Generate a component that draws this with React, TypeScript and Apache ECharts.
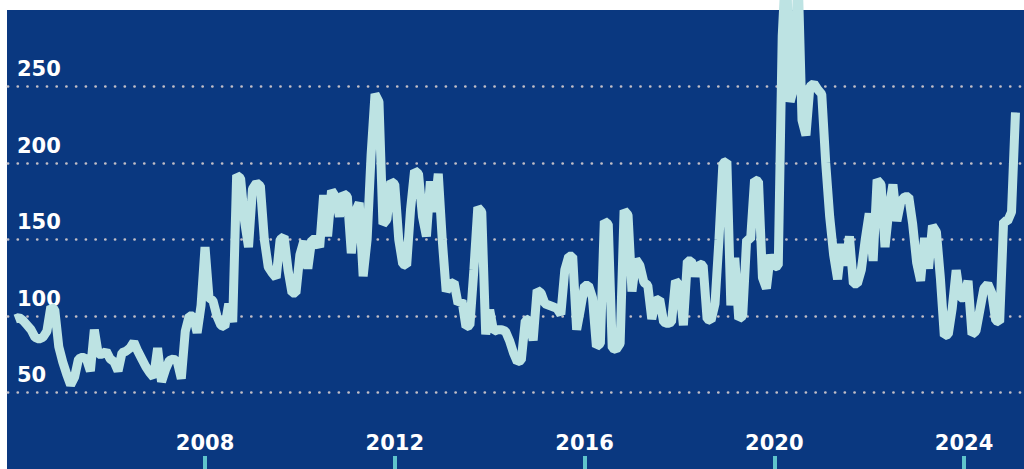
import React, { useEffect, useRef } from "react";
import * as echarts from "echarts";

// Monthly values, starting January 2004
const START_YEAR = 2004;
const values: number[] = [
  98, 99, 97, 94, 91, 86, 85, 86, 90, 106,
  104, 80, 70, 62, 55, 60, 72, 73, 72, 64,
  91, 75, 75, 77, 72, 70, 64, 76, 77, 79,
  83, 77, 72, 67, 63, 60, 79, 57, 65, 71,
  72, 70, 59, 90, 100, 100, 89, 107, 145, 112,
  110, 100, 94, 93, 108, 96, 192, 190, 162, 145,
  183, 187, 185, 150, 132, 128, 125, 150, 152, 130,
  115, 115, 140, 149, 131, 150, 150, 145, 179, 152,
  182, 178, 165, 180, 178, 141, 168, 174, 126, 150,
  205, 245, 240, 160, 163, 188, 186, 150, 134, 133,
  170, 195, 193, 165, 152, 188, 168, 193, 150, 116,
  121, 122, 108, 110, 93, 94, 130, 171, 168, 88,
  104, 90, 91, 91, 90, 84, 76, 70, 71, 97,
  98, 84, 117, 115, 108, 107, 106, 105, 101, 130,
  139, 139, 91, 105, 120, 120, 112, 80, 82, 162,
  160, 79, 78, 82, 169, 166, 116, 137, 133, 122,
  120, 98, 110, 111, 96, 95, 96, 123, 120, 94,
  136, 136, 126, 134, 133, 98, 97, 108, 150, 200,
  201, 107, 138, 98, 100, 150, 150, 189, 188, 125,
  118, 140, 132, 133, 283, 335, 240, 250, 325, 228,
  218, 250, 252, 248, 245, 200, 165, 140, 124, 147,
  133, 152, 121, 121, 130, 150, 167, 136, 189, 186,
  145, 170, 186, 162, 175, 178, 178, 160, 135, 123,
  151, 131, 159, 155, 125, 87, 88, 105, 130, 112,
  112, 123, 88, 90, 104, 118, 121, 115, 97, 96,
  162, 162, 168, 233,
];
const yearTicks = [2008, 2012, 2016, 2020, 2024];
const yMin = 0;
const yMax = 300;
const yStep = 50;

export default function App() {
  const ref = useRef<HTMLDivElement>(null);
  useEffect(() => {
    if (!ref.current) return;
    const chart = echarts.init(ref.current, null, { renderer: "svg" });
    const data = values.map((v, i) => [START_YEAR + i / 12, v]);
    const labelFont = {
      color: "#ffffff",
      fontWeight: "bold" as const,
      fontSize: 21,
      fontFamily: "DejaVu Sans",
    };
    chart.setOption({
      animation: false,
      grid: { left: 8, right: 0, top: 10, bottom: -2 },
      xAxis: {
        type: "value",
        min: 2003.847,
        max: 2025.263,
        axisLine: { show: false },
        splitLine: { show: false },
        axisTick: {
          show: true,
          inside: true,
          length: 13,
          customValues: yearTicks,
          lineStyle: { color: "#5fc4cc", width: 4 },
        },
        axisLabel: {
          show: true,
          inside: true,
          customValues: yearTicks,
          margin: 16,
          ...labelFont,
          formatter: (v: number) => String(Math.round(v)),
        },
      },
      yAxis: {
        type: "value",
        min: yMin,
        max: yMax,
        interval: yStep,
        axisLine: { show: false },
        axisTick: { show: false },
        splitLine: {
          show: true,
          showMinLine: false,
          showMaxLine: false,
          lineStyle: { color: "#c2bec6", width: 2.7, type: [0.1, 9.63], cap: "round" },
        },
        axisLabel: {
          inside: true,
          margin: 9,
          ...labelFont,
          verticalAlign: "bottom",
          padding: [0, 0, 7, 0],
          showMinLabel: false,
          showMaxLabel: false,
          formatter: (v: number) => (v === yMin || v === yMax ? "" : String(v)),
        },
      },
      series: [
        {
          type: "line",
          data,
          showSymbol: false,
          clip: false,
          lineStyle: { color: "#bde3e3", width: 9, join: "bevel", cap: "butt" },
        },
      ],
    });
    return () => chart.dispose();
  }, []);
  return (
    <div style={{ position: "fixed", left: 0, top: 0, width: 1024, height: 469, background: "#ffffff" }}>
      <div style={{ position: "absolute", left: 7, top: 10, width: 1017, height: 459, background: "#0a3880" }} />
      <div ref={ref} style={{ position: "absolute", left: 0, top: 0, width: 1024, height: 469 }} />
    </div>
  );
}
